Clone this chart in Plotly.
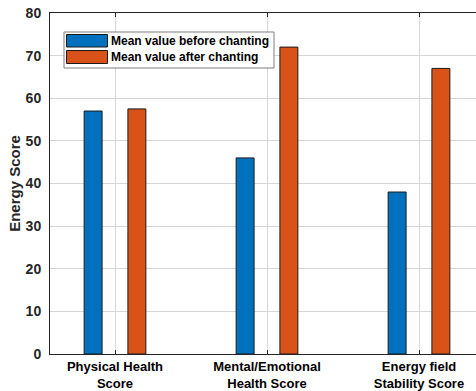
import plotly.graph_objects as go

# Data
categories = ["Physical Health<br>Score", "Mental/Emotional<br>Health Score", "Energy field<br>Stability Score"]
before_values = [57, 46, 38]
after_values = [57.5, 72, 67]
series_names = ["Mean value before chanting", "Mean value after chanting"]
y_ticks = [0, 10, 20, 30, 40, 50, 60, 70, 80]

BLUE = "#0072BD"
ORANGE = "#D95319"
FONT = "Liberation Sans, Arial, sans-serif"

W, H = 476, 391
ML, MT, MB, MR = 50, 13, 37, 0
PW, PH = W - ML - MR, H - MT - MB

x_pos = [1, 2, 3]
bar_w = 0.118

fig = go.Figure()
fig.add_trace(go.Bar(
    x=x_pos, y=before_values, name=series_names[0],
    width=bar_w, offset=-0.144 - bar_w / 2,
    marker=dict(color=BLUE, line=dict(color="#1a1a1a", width=1)),
    showlegend=False,
))
fig.add_trace(go.Bar(
    x=x_pos, y=after_values, name=series_names[1],
    width=bar_w, offset=0.144 - bar_w / 2,
    marker=dict(color=ORANGE, line=dict(color="#1a1a1a", width=1)),
    showlegend=False,
))


def px_x(p):
    return (p - ML) / PW


def px_y(p):
    return (H - MB - p) / PH


# Legend box drawn in paper coordinates
shapes = [
    dict(type="rect", xref="paper", yref="paper",
         x0=px_x(64), x1=px_x(274), y0=px_y(68), y1=px_y(32),
         line=dict(color="#808080", width=1), fillcolor="white", layer="above"),
]
annotations = []
swatch_rows = [(34.5, 47, BLUE, series_names[0]), (50.5, 63.5, ORANGE, series_names[1])]
for top, bot, col, label in swatch_rows:
    shapes.append(dict(type="rect", xref="paper", yref="paper",
                       x0=px_x(66.5), x1=px_x(107.5), y0=px_y(bot), y1=px_y(top),
                       line=dict(color="#1a1a1a", width=1), fillcolor=col, layer="above"))
    annotations.append(dict(xref="paper", yref="paper", x=px_x(109), y=px_y((top + bot) / 2),
                            text=label, showarrow=False, xanchor="left", yanchor="middle",
                            font=dict(family=FONT, size=12, color="#000000", weight="bold")))

fig.update_layout(
    width=W, height=H,
    margin=dict(l=ML, r=MR, t=MT, b=MB, pad=0),
    paper_bgcolor="white", plot_bgcolor="white",
    barmode="overlay",
    shapes=shapes, annotations=annotations,
    font=dict(family=FONT, color="#262626"),
    xaxis=dict(
        range=[1 - 65 / 152, 1 - 65 / 152 + PW / 152],
        tickvals=x_pos, ticktext=categories,
        tickfont=dict(family=FONT, size=13, color="#000000", weight="bold"),
        ticks="inside", ticklen=4, tickcolor="#262626",
        showline=True, linecolor="#262626", linewidth=1, mirror="ticks",
        showgrid=True, gridcolor="#d6d6d6", gridwidth=1,
        zeroline=False,
    ),
    yaxis=dict(
        range=[0, 80], tickvals=y_ticks,
        tickfont=dict(family=FONT, size=14, color="#262626", weight="bold"),
        ticks="", ticklabelstandoff=5,
        showline=True, linecolor="#262626", linewidth=1,
        showgrid=True, gridcolor="#d6d6d6", gridwidth=1,
        zeroline=False,
        title=dict(text="Energy Score", standoff=1,
                   font=dict(family=FONT, size=15, color="#262626", weight="bold")),
    ),
)

fig.write_html("out.html")
